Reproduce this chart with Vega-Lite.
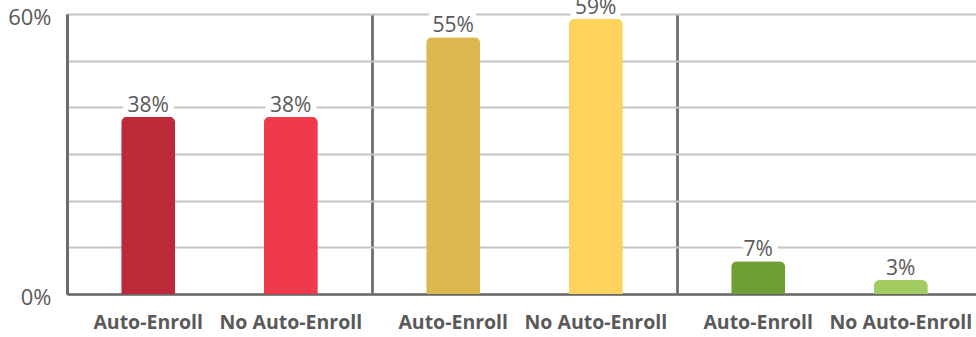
{
  "$schema": "https://vega.github.io/schema/vega-lite/v6.json",
  "width": 915,
  "height": 280,
  "autosize": {"type": "none"},
  "padding": {"left": 67, "top": 14, "right": 0, "bottom": 43},
  "background": "white",
  "config": {"view": {"stroke": null}, "font": "Open Sans"},
  "data": {"values": [
    {"group": "Group 1", "enroll": "Auto-Enroll", "key": "G1 Auto-Enroll", "value": 0.38},
    {"group": "Group 1", "enroll": "No Auto-Enroll", "key": "G1 No Auto-Enroll", "value": 0.38},
    {"group": "Group 2", "enroll": "Auto-Enroll", "key": "G2 Auto-Enroll", "value": 0.55},
    {"group": "Group 2", "enroll": "No Auto-Enroll", "key": "G2 No Auto-Enroll", "value": 0.59},
    {"group": "Group 3", "enroll": "Auto-Enroll", "key": "G3 Auto-Enroll", "value": 0.07},
    {"group": "Group 3", "enroll": "No Auto-Enroll", "key": "G3 No Auto-Enroll", "value": 0.03}
  ]},
  "encoding": {
    "x": {
      "field": "group", "type": "nominal", "sort": null,
      "scale": {"paddingInner": 0, "paddingOuter": 0},
      "axis": {"title": null, "labels": false, "ticks": false, "domain": true, "domainColor": "#696969", "domainWidth": 2.7, "grid": true, "gridColor": "#696969", "gridWidth": 2.7, "bandPosition": 0}
    },
    "xOffset": {
      "field": "enroll", "type": "nominal", "sort": ["Auto-Enroll", "No Auto-Enroll"],
      "scale": {"paddingInner": 0.621, "paddingOuter": 0.38}
    }
  },
  "layer": [
    {
      "mark": {"type": "text", "stroke": "white", "strokeWidth": 12, "strokeJoin": "round", "fill": "white", "baseline": "alphabetic", "dy": -5, "fontSize": 21},
      "encoding": {
        "y": {
          "field": "value", "type": "quantitative",
          "scale": {"domain": [0, 0.6], "nice": false},
          "axis": {
            "title": null, "values": [0, 0.1, 0.2, 0.3, 0.4, 0.5, 0.6], "format": ".0%",
            "labelExpr": "datum.value == 0 || datum.value == 0.6 ? datum.label : ''",
            "ticks": false, "domain": true, "domainColor": "#696969", "domainWidth": 2.7,
            "grid": true, "gridColor": "#C4C4C4", "gridWidth": 2,
            "labelFontSize": 22, "labelColor": "#595959", "labelPadding": 16, "labelOffset": 3
          }
        },
        "text": {"field": "value", "type": "quantitative", "format": ".0%"}
      }
    },
    {
      "mark": {"type": "bar", "cornerRadiusTopLeft": 6, "cornerRadiusTopRight": 6},
      "encoding": {
        "y": {"field": "value", "type": "quantitative"},
        "color": {
          "field": "key", "type": "nominal", "legend": null,
          "scale": {
            "domain": ["G1 Auto-Enroll", "G1 No Auto-Enroll", "G2 Auto-Enroll", "G2 No Auto-Enroll", "G3 Auto-Enroll", "G3 No Auto-Enroll"],
            "range": ["#BC2A3A", "#EE3A4B", "#DDB84F", "#FDD35B", "#6E9F34", "#A3CC60"]
          }
        }
      }
    },
    {
      "mark": {"type": "text", "baseline": "alphabetic", "dy": -5, "fontSize": 21, "color": "#595959"},
      "encoding": {
        "y": {"field": "value", "type": "quantitative"},
        "text": {"field": "value", "type": "quantitative", "format": ".0%"}
      }
    },
    {
      "mark": {"type": "text", "baseline": "middle", "dy": 29, "fontSize": 19.5, "fontWeight": "bold", "color": "#595959"},
      "encoding": {
        "y": {"datum": 0, "type": "quantitative"},
        "text": {"field": "enroll", "type": "nominal"}
      }
    }
  ]
}
